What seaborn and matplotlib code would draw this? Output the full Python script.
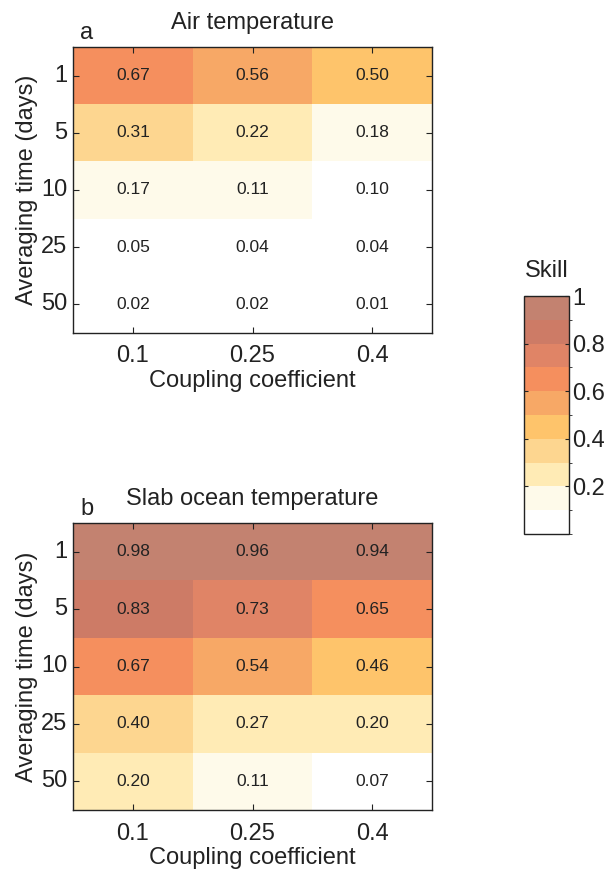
import numpy as np
import pandas as pd
import matplotlib
matplotlib.use("Agg")
import matplotlib.pyplot as plt
from matplotlib.colors import ListedColormap, BoundaryNorm
import seaborn as sns

# ---- data ----
coupling = ["0.1", "0.25", "0.4"]
averaging = ["1", "5", "10", "25", "50"]
air_skill = [
    [0.67, 0.56, 0.498],
    [0.31, 0.22, 0.18],
    [0.17, 0.11, 0.098],
    [0.05, 0.04, 0.04],
    [0.02, 0.02, 0.01],
]
slab_skill = [
    [0.98, 0.96, 0.94],
    [0.83, 0.73, 0.65],
    [0.67, 0.54, 0.46],
    [0.398, 0.27, 0.203],
    [0.203, 0.11, 0.07],
]
titles = ["Air temperature", "Slab ocean temperature"]
panel_letters = ["a", "b"]
cbar_ticks = [0.2, 0.4, 0.6, 0.8, 1.0]
cbar_ticklabels = ["0.2", "0.4", "0.6", "0.8", "1"]

band_colors = ["#FFFFFF", "#FEFAEA", "#FFEBB5", "#FDD690", "#FEC46B",
               "#F7A866", "#F58F5E", "#E08466", "#CD7B66", "#C38270"]
bounds = np.linspace(0, 1, 11)
cmap = ListedColormap(band_colors)
norm = BoundaryNorm(bounds, cmap.N)

txt = "#222222"
plt.rcParams["font.family"] = ["Liberation Sans", "DejaVu Sans"]
plt.rcParams["text.color"] = txt
plt.rcParams["axes.labelcolor"] = txt
plt.rcParams["xtick.color"] = txt
plt.rcParams["ytick.color"] = txt

FS = 17
W, H = 612, 869
fig = plt.figure(figsize=(W / 100, H / 100), dpi=100)

def rect(l, t, r, b):
    return [l / W, 1 - b / H, (r - l) / W, (b - t) / H]

ax_a = fig.add_axes(rect(73, 47, 432, 333))
ax_b = fig.add_axes(rect(73, 523, 432, 810))
cax = fig.add_axes(rect(524, 296, 569, 534))

for i, (ax, data) in enumerate(zip([ax_a, ax_b], [air_skill, slab_skill])):
    df = pd.DataFrame(data, index=averaging, columns=coupling)
    sns.heatmap(df, ax=ax, cmap=cmap, norm=norm, annot=True, fmt=".2f",
                annot_kws={"color": txt, "fontsize": 12.5},
                cbar=(i == 0), cbar_ax=cax if i == 0 else None,
                cbar_kws={"ticks": cbar_ticks} if i == 0 else {},
                linewidths=0)
    for s in ax.spines.values():
        s.set_visible(True)
        s.set_color(txt)
        s.set_linewidth(1.0)
    ax.tick_params(direction="in", top=True, right=True, length=4,
                   labelsize=FS, width=0.8)
    ax.tick_params(axis="x", pad=9)
    ax.tick_params(axis="y", pad=4)
    ax.set_yticklabels(averaging, rotation=0)
    ax.set_xticklabels(coupling, rotation=0)
    ax.set_xlabel("Coupling coefficient", fontsize=FS, labelpad=2)
    ax.set_ylabel("Averaging time (days)", fontsize=FS, labelpad=2)
    ax.set_title(titles[i], fontsize=FS, pad=13)
    ax.text(0.02, 1.012, panel_letters[i], transform=ax.transAxes,
            fontsize=FS, va="bottom", ha="left")

cb = ax_a.collections[0].colorbar
cb.set_ticks(cbar_ticks)
cb.set_ticklabels(cbar_ticklabels)
cb.outline.set_edgecolor(txt)
cb.outline.set_linewidth(1.0)
cax.tick_params(direction="in", left=True, right=True, length=3,
                labelsize=FS, pad=2, width=0.8)
cax.set_title("Skill", fontsize=FS, pad=14)

fig.savefig("out.png", dpi=100)
